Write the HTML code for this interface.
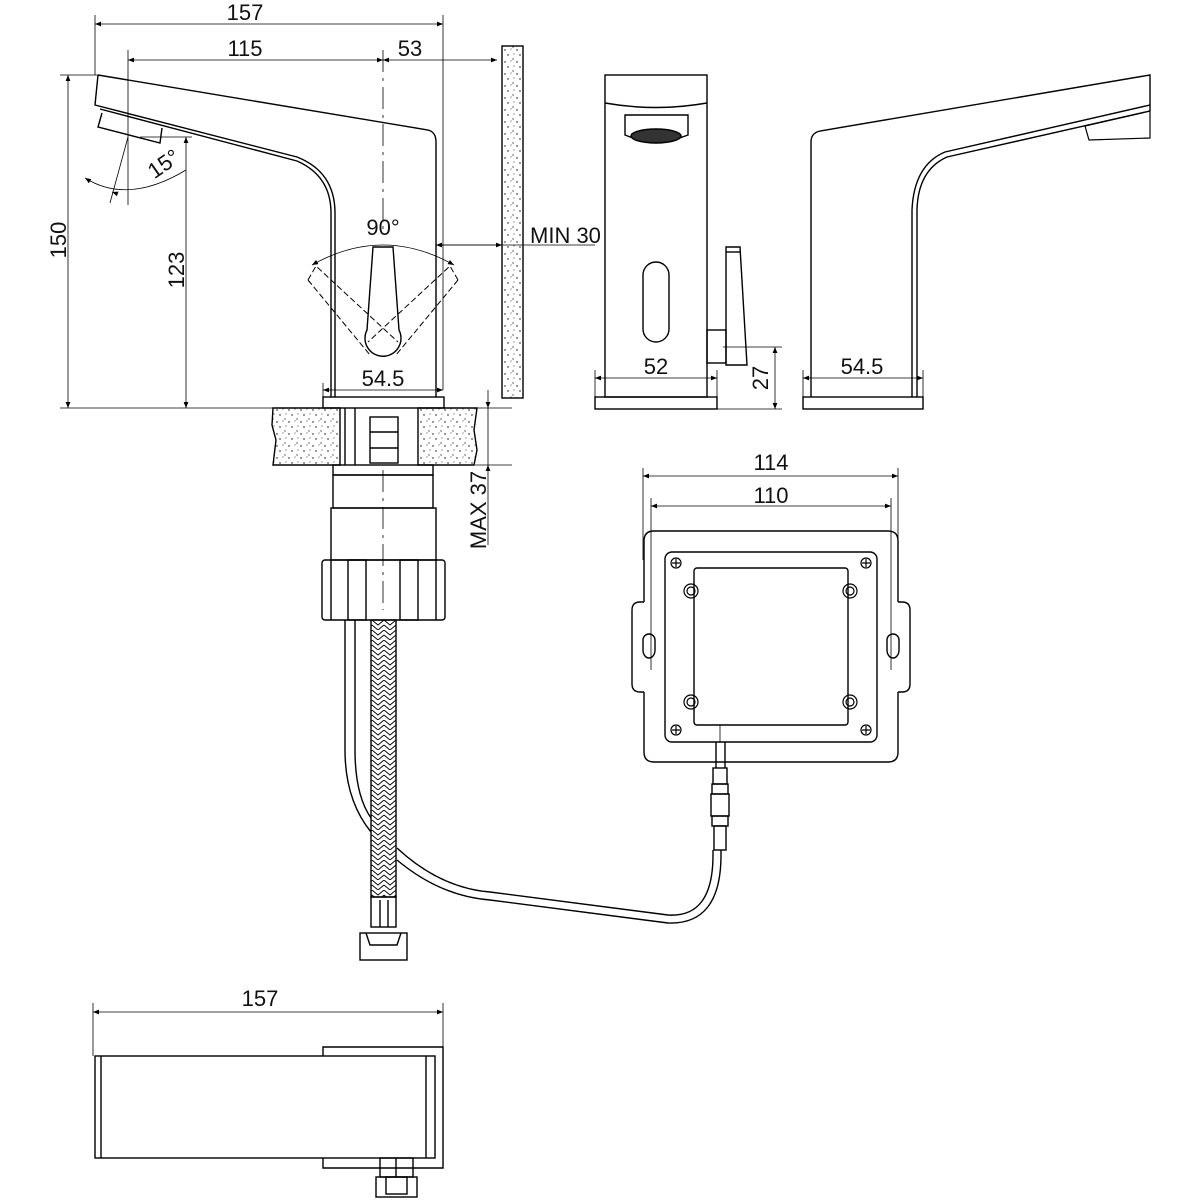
<!DOCTYPE html>
<html><head><meta charset="utf-8"><style>
html,body{margin:0;padding:0;background:#fff}
svg{display:block}
text{font-family:"Liberation Sans",sans-serif;font-size:22px;fill:#111}
</style></head><body>
<svg width="1200" height="1200" viewBox="0 0 1200 1200" xmlns="http://www.w3.org/2000/svg">
<defs>
<pattern id="st" width="12" height="12" patternUnits="userSpaceOnUse">
<circle cx="1" cy="2" r="0.7" fill="#000"/><circle cx="7" cy="1" r="0.5" fill="#000"/><circle cx="4" cy="7" r="0.7" fill="#000"/><circle cx="10" cy="6" r="0.5" fill="#000"/><circle cx="9" cy="11" r="0.6" fill="#000"/>
</pattern>
<pattern id="br" width="12" height="10" patternUnits="userSpaceOnUse">
<path d="M0 0 L6 5 L12 0 M0 5 L6 10 L12 5" stroke="#000" stroke-width="0.9" fill="none"/>
</pattern>
<marker id="a" viewBox="0 0 10 10" refX="10" refY="5" markerWidth="14" markerHeight="6" orient="auto-start-reverse" markerUnits="userSpaceOnUse"><path d="M0 1 L10 5 L0 9Z" fill="#000"/></marker>
</defs>
<g fill="none" stroke="#000" stroke-width="1.4">
<g stroke-width="0.8">
<line x1="95" y1="15" x2="95" y2="75"/><line x1="443" y1="15" x2="443" y2="390"/>
<line x1="95" y1="24" x2="443" y2="24" marker-start="url(#a)" marker-end="url(#a)"/>
<line x1="128" y1="50" x2="128" y2="205"/>
<line x1="128" y1="60" x2="383" y2="60" marker-start="url(#a)" marker-end="url(#a)"/>
<line x1="383" y1="60" x2="497" y2="60" marker-start="url(#a)" marker-end="url(#a)"/>
<line x1="60" y1="75" x2="98" y2="75"/>
<line x1="68" y1="75" x2="68" y2="408" marker-start="url(#a)" marker-end="url(#a)"/>
<line x1="140" y1="137" x2="192" y2="137"/>
<line x1="186" y1="137" x2="186" y2="408" marker-start="url(#a)" marker-end="url(#a)"/>
<line x1="60" y1="408" x2="512" y2="408"/>
<line x1="128" y1="137" x2="110" y2="203"/>
<path d="M85 178 Q128 205 186 170" marker-start="url(#a)"/>
<path d="M115 193 L112 192" marker-end="url(#a)"/>
<line x1="436" y1="245" x2="595" y2="245"/>
<line x1="436" y1="245" x2="502" y2="245" marker-start="url(#a)" marker-end="url(#a)"/>
<line x1="323" y1="383" x2="323" y2="397"/>
<line x1="323" y1="390" x2="443" y2="390" marker-start="url(#a)" marker-end="url(#a)"/>
<path d="M312 265 Q383 225 454 265" marker-start="url(#a)" marker-end="url(#a)"/>
<line x1="383" y1="50" x2="383" y2="230" stroke-dasharray="22,6,3,6"/>
<line x1="475" y1="465" x2="512" y2="465"/>
<line x1="488" y1="390" x2="488" y2="408" marker-end="url(#a)"/>
<line x1="488" y1="545" x2="488" y2="465" marker-end="url(#a)"/>
<line x1="488" y1="408" x2="488" y2="465"/>
</g>
<text x="245" y="20" text-anchor="middle" stroke="none">157</text>
<text x="245" y="56" text-anchor="middle" stroke="none">115</text>
<text x="410" y="56" text-anchor="middle" stroke="none">53</text>
<text x="0" y="0" transform="translate(66,240) rotate(-90)" text-anchor="middle" stroke="none">150</text>
<text x="0" y="0" transform="translate(184,270) rotate(-90)" text-anchor="middle" stroke="none">123</text>
<text x="0" y="0" transform="translate(168,170) rotate(-35)" text-anchor="middle" stroke="none">15°</text>
<text x="383" y="235" text-anchor="middle" stroke="none">90°</text>
<text x="530" y="243" stroke="none">MIN 30</text>
<text x="383" y="386" text-anchor="middle" stroke="none">54.5</text>
<text x="0" y="0" transform="translate(486,510) rotate(-90)" text-anchor="middle" stroke="none">MAX 37</text>
<path d="M98 75 L428 130 Q436 132 436 142 L436 397"/>
<path d="M98 75 L95 105 L297 157 Q335 172 335 213 L335 397"/>
<path d="M100 109 L297 161 Q331 176 331 213 L331 397"/>
<path d="M102 113 L98 127 L160 143 L162 128"/>
<rect x="323" y="397" width="121" height="11"/>
<path d="M373 247 L393 247 L399 330 A18 18 0 1 1 367 330 Z"/>
<g stroke-dasharray="6,3" stroke-width="1">
<path d="M308 280 L316 266 L398 342"/><path d="M308 280 L370 355"/>
<path d="M458 280 L450 266 L368 342"/><path d="M458 280 L396 355"/>
</g>
<rect x="502" y="46" width="21" height="352" fill="url(#st)"/>
<path d="M273 408 L340 408 L340 465 L273 465 L276 440 L272 425 Z" fill="url(#st)"/>
<path d="M418 408 L477 408 L474 430 L477 450 L474 465 L418 465 Z" fill="url(#st)"/>
<line x1="345" y1="408" x2="345" y2="465"/><line x1="355" y1="408" x2="355" y2="465"/>
<rect x="370" y="417" width="28" height="46"/>
<line x1="370" y1="432" x2="398" y2="432"/><line x1="370" y1="448" x2="398" y2="448"/>
<rect x="333" y="465" width="100" height="10"/>
<rect x="333" y="475" width="100" height="33"/>
<rect x="331" y="508" width="105" height="52"/>
<rect x="322" y="560" width="123" height="60" rx="3"/>
<line x1="331" y1="560" x2="331" y2="620"/><line x1="436" y1="560" x2="436" y2="620"/>
<rect x="348" y="560" width="18" height="60"/><rect x="400" y="560" width="18" height="60"/>
<line x1="383" y1="470" x2="383" y2="610" stroke-width="0.8" stroke-dasharray="22,6,3,6"/>
<rect x="371" y="620" width="25" height="277" fill="url(#br)"/>
<rect x="371" y="897" width="25" height="30"/>
<line x1="380" y1="900" x2="380" y2="927"/><line x1="388" y1="900" x2="388" y2="927"/>
<rect x="360" y="933" width="47" height="27"/>
<path d="M366 933 L370 945 L397 945 L401 933" />
<path d="M345 620 L345 750 Q345 800 371 832"/>
<path d="M355 620 L355 750 Q355 795 371 818"/>
<path d="M397 848 Q440 888 490 892 L668 915 Q713 918 713 855 L713 850"/>
<path d="M397 860 Q440 896 490 900 L668 923 Q721 925 721 855 L721 850"/>
<rect x="605" y="75" width="102" height="322"/>
<path d="M605 103 Q656 112 707 103"/>
<path d="M625 115 L688 115 L688 135 Q656 148 625 135 Z"/>
<ellipse cx="656" cy="136" rx="25" ry="7" fill="#333"/>
<rect x="643" y="262" width="26" height="80" rx="13"/>
<rect x="595" y="397" width="122" height="12"/>
<path d="M726 247 L740 247 L747 365 L726 365 Z"/>
<line x1="726" y1="252" x2="740" y2="252"/>
<rect x="707" y="330" width="19" height="33"/>
<g stroke-width="0.8">
<line x1="595" y1="370" x2="595" y2="397"/><line x1="717" y1="370" x2="717" y2="397"/>
<line x1="595" y1="378" x2="717" y2="378" marker-start="url(#a)" marker-end="url(#a)"/>
<line x1="723" y1="347" x2="782" y2="347"/><line x1="717" y1="409" x2="782" y2="409"/>
<line x1="775" y1="347" x2="775" y2="409" marker-start="url(#a)" marker-end="url(#a)"/>
</g>
<text x="656" y="374" text-anchor="middle" stroke="none">52</text>
<text x="0" y="0" transform="translate(768,378) rotate(-90)" text-anchor="middle" stroke="none">27</text>
<path d="M811 397 L811 142 Q811 133 820 131 L1150 75 L1150 105 L945 152 Q914 165 912 210 L912 397"/>
<path d="M1150 111 L947 157 Q918 170 917 210 L917 397"/>
<path d="M1150 105 L1150 111"/>
<path d="M1085 126 L1150 111 L1150 138 L1089 140 Z" stroke-width="1.2"/>
<rect x="803" y="397" width="120" height="12"/>
<g stroke-width="0.8">
<line x1="803" y1="370" x2="803" y2="397"/><line x1="923" y1="370" x2="923" y2="397"/>
<line x1="803" y1="378" x2="923" y2="378" marker-start="url(#a)" marker-end="url(#a)"/>
</g>
<text x="862" y="374" text-anchor="middle" stroke="none">54.5</text>
<g stroke-width="0.8">
<line x1="643" y1="468" x2="643" y2="560"/><line x1="898" y1="468" x2="898" y2="560"/>
<line x1="643" y1="476" x2="898" y2="476" marker-start="url(#a)" marker-end="url(#a)"/>
<line x1="651" y1="498" x2="651" y2="670"/><line x1="891" y1="498" x2="891" y2="670"/>
<line x1="651" y1="506" x2="891" y2="506" marker-start="url(#a)" marker-end="url(#a)"/>
</g>
<text x="771" y="470" text-anchor="middle" stroke="none">114</text>
<text x="771" y="503" text-anchor="middle" stroke="none">110</text>
<path d="M644 602 L644 541 Q644 531 654 531 L888 531 Q898 531 898 541 L898 602"/>
<path d="M644 692 L644 752 Q644 762 654 762 L888 762 Q898 762 898 752 L898 692"/>
<path d="M644 602 L640 602 Q632 602 632 610 L632 684 Q632 692 640 692 L644 692"/>
<path d="M898 602 L902 602 Q910 602 910 610 L910 684 Q910 692 902 692 L898 692"/>
<rect x="665" y="552" width="212" height="190" rx="7"/>
<rect x="694" y="568" width="154" height="157" rx="3"/>
<path d="M643 640 A6 6 0 0 1 655 640 L655 650 A6 8 0 0 1 643 650 Z"/>
<path d="M887 640 A6 6 0 0 1 899 640 L899 650 A6 8 0 0 1 887 650 Z"/>
<g stroke-width="1.2">
<circle cx="676" cy="563" r="5"/><circle cx="866" cy="563" r="5"/><circle cx="676" cy="730" r="5"/><circle cx="866" cy="730" r="5"/>
<circle cx="691" cy="591" r="7"/><circle cx="691" cy="591" r="4"/><circle cx="850" cy="591" r="7"/><circle cx="850" cy="591" r="4"/>
<circle cx="691" cy="702" r="7"/><circle cx="691" cy="702" r="4"/><circle cx="850" cy="702" r="7"/><circle cx="850" cy="702" r="4"/>
<path d="M672 563h8M676 559v8M862 563h8M866 559v8M672 730h8M676 726v8M862 730h8M866 726v8"/>
</g>
<line x1="720" y1="725" x2="720" y2="742" stroke-width="0.8"/>
<line x1="716" y1="742" x2="716" y2="768"/><line x1="725" y1="742" x2="725" y2="768"/>
<rect x="713" y="768" width="14" height="16"/>
<rect x="712" y="784" width="16" height="10"/>
<rect x="711" y="794" width="18" height="22"/>
<rect x="712" y="816" width="16" height="10"/>
<rect x="714" y="826" width="12" height="24"/>
<g stroke-width="0.8">
<line x1="93" y1="1003" x2="93" y2="1056"/><line x1="443" y1="1003" x2="443" y2="1047"/>
<line x1="93" y1="1012" x2="443" y2="1012" marker-start="url(#a)" marker-end="url(#a)"/>
</g>
<text x="260" y="1006" text-anchor="middle" stroke="none">157</text>
<rect x="95" y="1056" width="340" height="102"/>
<line x1="101" y1="1056" x2="101" y2="1158"/><line x1="426" y1="1056" x2="426" y2="1158"/>
<path d="M323 1056 L323 1047 L443 1047 L443 1168 L323 1168 L323 1158"/>
<rect x="380" y="1158" width="33" height="19"/>
<line x1="396" y1="1158" x2="396" y2="1177"/>
<rect x="376" y="1177" width="41" height="20"/>
<rect x="386" y="1177" width="21" height="17"/>
</g>
</svg>
</body></html>
